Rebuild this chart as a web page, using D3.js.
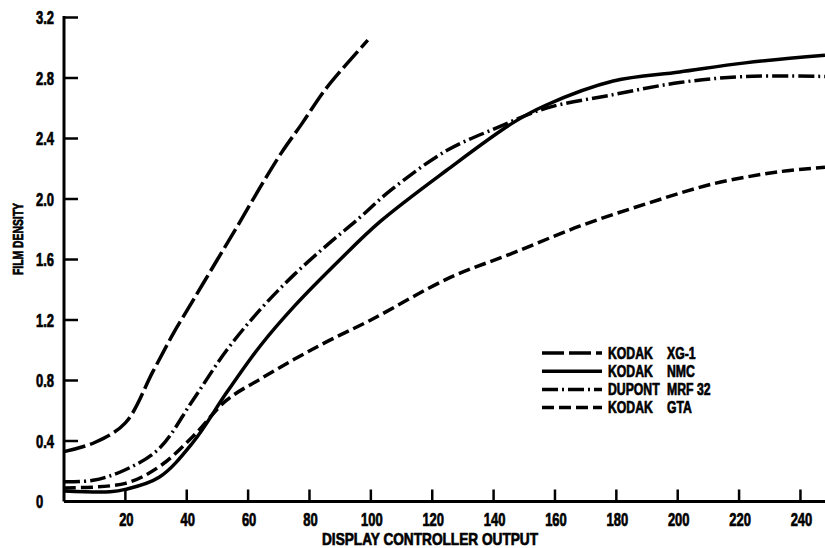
<!DOCTYPE html>
<html lang="en">
<head>
    <meta charset="UTF-8">
    <title>Film density</title>
    <script src="https://d3js.org/d3.v7.min.js"></script>
    <style>
        html, body { margin: 0; height: 100%; overflow: hidden; background: #fff; }
        text { font-family: "Liberation Sans", Arial, sans-serif; font-weight: bold; fill: #000; stroke: #000; stroke-width: 0.7px; }
    </style>
</head>
<body>
    <svg id="svg"></svg>
    <script>
        // values
        const xg1 = [[0,0.33],[10,0.39],[20,0.52],[29,0.86],[35.6,1.11],[40,1.26],[50,1.60],[56.5,1.82],[64,2.08],[71,2.31],[77.6,2.50],[85,2.72],[92,2.89],[99,3.05]];
        const nmc = [[0,0.07],[15,0.065],[20,0.08],[31,0.16],[42,0.39],[53,0.72],[64,1.03],[75,1.29],[90,1.60],[103,1.85],[124.7,2.19],[146,2.50],[157,2.62],[179,2.78],[200.6,2.84],[222,2.90],[248,2.95]];
        const mrf32 = [[0,0.13],[9.5,0.14],[20,0.21],[31,0.35],[42,0.67],[53,1.00],[64,1.27],[75,1.50],[86,1.70],[96,1.87],[106,2.05],[124.7,2.32],[141,2.47],[157,2.60],[179,2.69],[200.6,2.77],[222,2.81],[248,2.81]];
        const gta = [[0,0.09],[20,0.12],[31,0.23],[42,0.43],[53,0.67],[64,0.81],[75,0.94],[86,1.06],[100,1.20],[125.7,1.48],[146,1.64],[168,1.82],[190,1.97],[211.5,2.10],[233,2.18],[248,2.21]];
        const xTicks = [20,40,60,80,100,120,140,160,180,200,220,240];
        const yTicks = [0.4,0.8,1.2,1.6,2.0,2.4,2.8,3.2];
        const seriesNames = ["KODAK", "KODAK", "DUPONT", "KODAK"];
        const seriesModels = ["XG-1", "NMC", "MRF 32", "GTA"];

        const width = 825, height = 548;
        const svg = d3.select("#svg").attr("width", width).attr("height", height);

        const x = d3.scaleLinear().domain([0, 248]).range([64, 825]);
        const y = d3.scaleLinear().domain([0, 3.2]).range([501.5, 17.5]);

        const series = [
            { data: xg1, dash: "22,5" },
            { data: nmc, dash: null },
            { data: mrf32, dash: "16,4,2,4" },
            { data: gta, dash: "12,5" }
        ];

        const line = d3.line().x(d => x(d[0])).y(d => y(d[1])).curve(d3.curveCatmullRom.alpha(0.5));

        svg.selectAll("path.curve").data(series).join("path")
            .attr("class", "curve")
            .attr("d", d => line(d.data))
            .attr("fill", "none")
            .attr("stroke", "#000")
            .attr("stroke-width", 3.5)
            .attr("stroke-dasharray", d => d.dash);

        // axes
        const ax = svg.append("g").attr("stroke", "#000").attr("stroke-width", 3);
        ax.append("line").attr("x1", x(0)).attr("x2", x(248)).attr("y1", y(0)).attr("y2", y(0));
        ax.append("line").attr("x1", x(0)).attr("x2", x(0)).attr("y1", y(0)).attr("y2", y(3.2) - 1.5);
        ax.selectAll("line.xt").data(xTicks).join("line").attr("class", "xt")
            .attr("x1", d => x(d)).attr("x2", d => x(d))
            .attr("y1", y(0)).attr("y2", y(0) - 12).attr("stroke-width", 2.5);
        ax.selectAll("line.yt").data(yTicks).join("line").attr("class", "yt")
            .attr("x1", x(0)).attr("x2", x(0) + 14)
            .attr("y1", d => y(d)).attr("y2", d => y(d)).attr("stroke-width", 2.5);

        // condensed bold look: squeeze horizontally
        const sx = 0.72;
        svg.selectAll("text.xl").data(xTicks).join("text").attr("class", "xl")
            .attr("transform", d => `translate(${x(d) + 1},526) scale(${sx},1)`)
            .attr("text-anchor", "middle").attr("font-size", 18)
            .text(d => d);
        svg.selectAll("text.yl").data([0].concat(yTicks)).join("text").attr("class", "yl")
            .attr("transform", d => `translate(36,${y(d) + 6.5}) scale(${sx},1)`)
            .attr("font-size", 18)
            .text(d => d === 0 ? "0" : d.toFixed(1));

        svg.append("text")
            .attr("x", 322).attr("y", 545)
            .attr("font-size", 17)
            .attr("textLength", 216).attr("lengthAdjust", "spacingAndGlyphs")
            .text("DISPLAY CONTROLLER OUTPUT");
        svg.append("text")
            .attr("transform", "translate(23,275) rotate(-90)")
            .attr("font-size", 15)
            .attr("textLength", 72).attr("lengthAdjust", "spacingAndGlyphs")
            .text("FILM DENSITY");

        // legend
        const leg = svg.append("g").attr("transform", "translate(542,353)");
        const rows = leg.selectAll("g").data(series).join("g")
            .attr("transform", (d, i) => `translate(0,${i * 18.2})`);
        rows.append("line").attr("x1", 0).attr("x2", 60).attr("y1", 0).attr("y2", 0)
            .attr("stroke", "#000").attr("stroke-width", 3.5)
            .attr("stroke-dasharray", d => d.dash);
        rows.append("text").attr("transform", `translate(66,5.5) scale(${sx},1)`).attr("font-size", 17)
            .text((d, i) => seriesNames[i]);
        rows.append("text").attr("transform", `translate(125,5.5) scale(${sx},1)`).attr("font-size", 17)
            .text((d, i) => seriesModels[i]);
    </script>
</body>
</html>
